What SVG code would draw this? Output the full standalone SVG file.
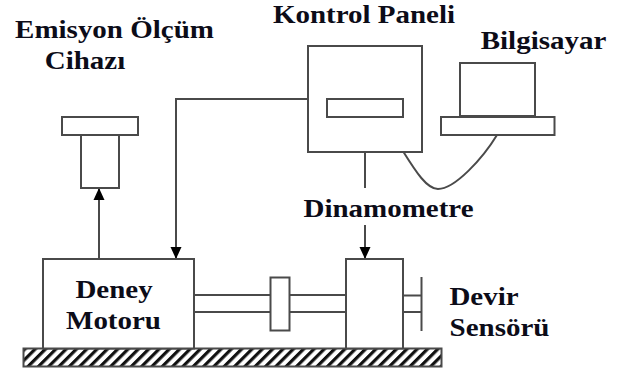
<svg xmlns="http://www.w3.org/2000/svg" width="626" height="373" viewBox="0 0 626 373">
<defs>
<style>
.s{fill:#fff;stroke:#4a4a4a;stroke-width:2}
.l{fill:none;stroke:#4a4a4a;stroke-width:2}
text{font-family:"Liberation Serif","Times New Roman",serif;font-weight:bold;font-size:26px;fill:#0c0c18;text-anchor:middle}
</style>
<pattern id="h" width="7.300" height="7.300" patternUnits="userSpaceOnUse" patternTransform="rotate(45 0 0)">
<rect width="7.300" height="7.300" fill="#fff"/><rect width="3.200" height="7.300" fill="#111"/>
</pattern>
<marker id="a" markerUnits="userSpaceOnUse" markerWidth="12" markerHeight="12" refX="12" refY="6" orient="auto"><path d="M0 0.500L12 6L0 11.500Z" fill="#000"/></marker>
</defs>
<rect width="626" height="373" fill="#fff"/>
<g id="connectors">
<path class="l" d="M99 259V188" marker-end="url(#a)"/>
<path class="l" d="M308 99H176V259" marker-end="url(#a)"/>
<path class="l" d="M365 152V188"/>
<path class="l" d="M365 225V259" marker-end="url(#a)"/>
<path class="l" d="M403.500 152C416 172 427 189 438 189C455 189 483 158 497 135"/>
<path class="l" d="M194 295H346M194 312H346M403 295.500H421.500M403 312H421.500"/>
</g>
<g id="zemin"><rect x="23.500" y="348.500" width="418" height="18" fill="url(#h)" stroke="#4a4a4a" stroke-width="2"/></g>
<g id="motor"><rect class="s" x="43" y="259" width="151" height="89.500"/><text transform="translate(114 298) scale(1.115 1)">Deney</text><text transform="translate(113.500 329) scale(1.115 1)">Motoru</text></g>
<g id="kaplin"><rect class="s" x="270.500" y="277.500" width="19" height="53"/></g>
<g id="dinamometre"><rect class="s" x="346" y="259" width="57" height="89.500"/></g>
<g id="dinamometre-label"><text transform="translate(388.500 217) scale(1.115 1)">Dinamometre</text></g>
<g id="sensor"><path class="l" d="M421.500 277V331"/><text transform="translate(484 305) scale(1.115 1)">Devir</text><text transform="translate(499.500 336) scale(1.115 1)">Sensörü</text></g>
<g id="panel"><rect class="s" x="308" y="46" width="114" height="106"/><rect class="s" x="327" y="99" width="76" height="18"/><text transform="translate(364 23) scale(1.115 1)">Kontrol Paneli</text></g>
<g id="bilgisayar"><rect class="s" x="460" y="63" width="75" height="53"/><rect class="s" x="441" y="117" width="113.500" height="18"/><text transform="translate(543.500 49) scale(1.115 1)">Bilgisayar</text></g>
<g id="emisyon"><rect class="s" x="81" y="134" width="38" height="54"/><rect class="s" x="62" y="117" width="76" height="18"/><text transform="translate(114.500 38) scale(1.115 1)">Emisyon Ölçüm</text><text transform="translate(85 69) scale(1.115 1)">Cihazı</text></g>
</svg>
